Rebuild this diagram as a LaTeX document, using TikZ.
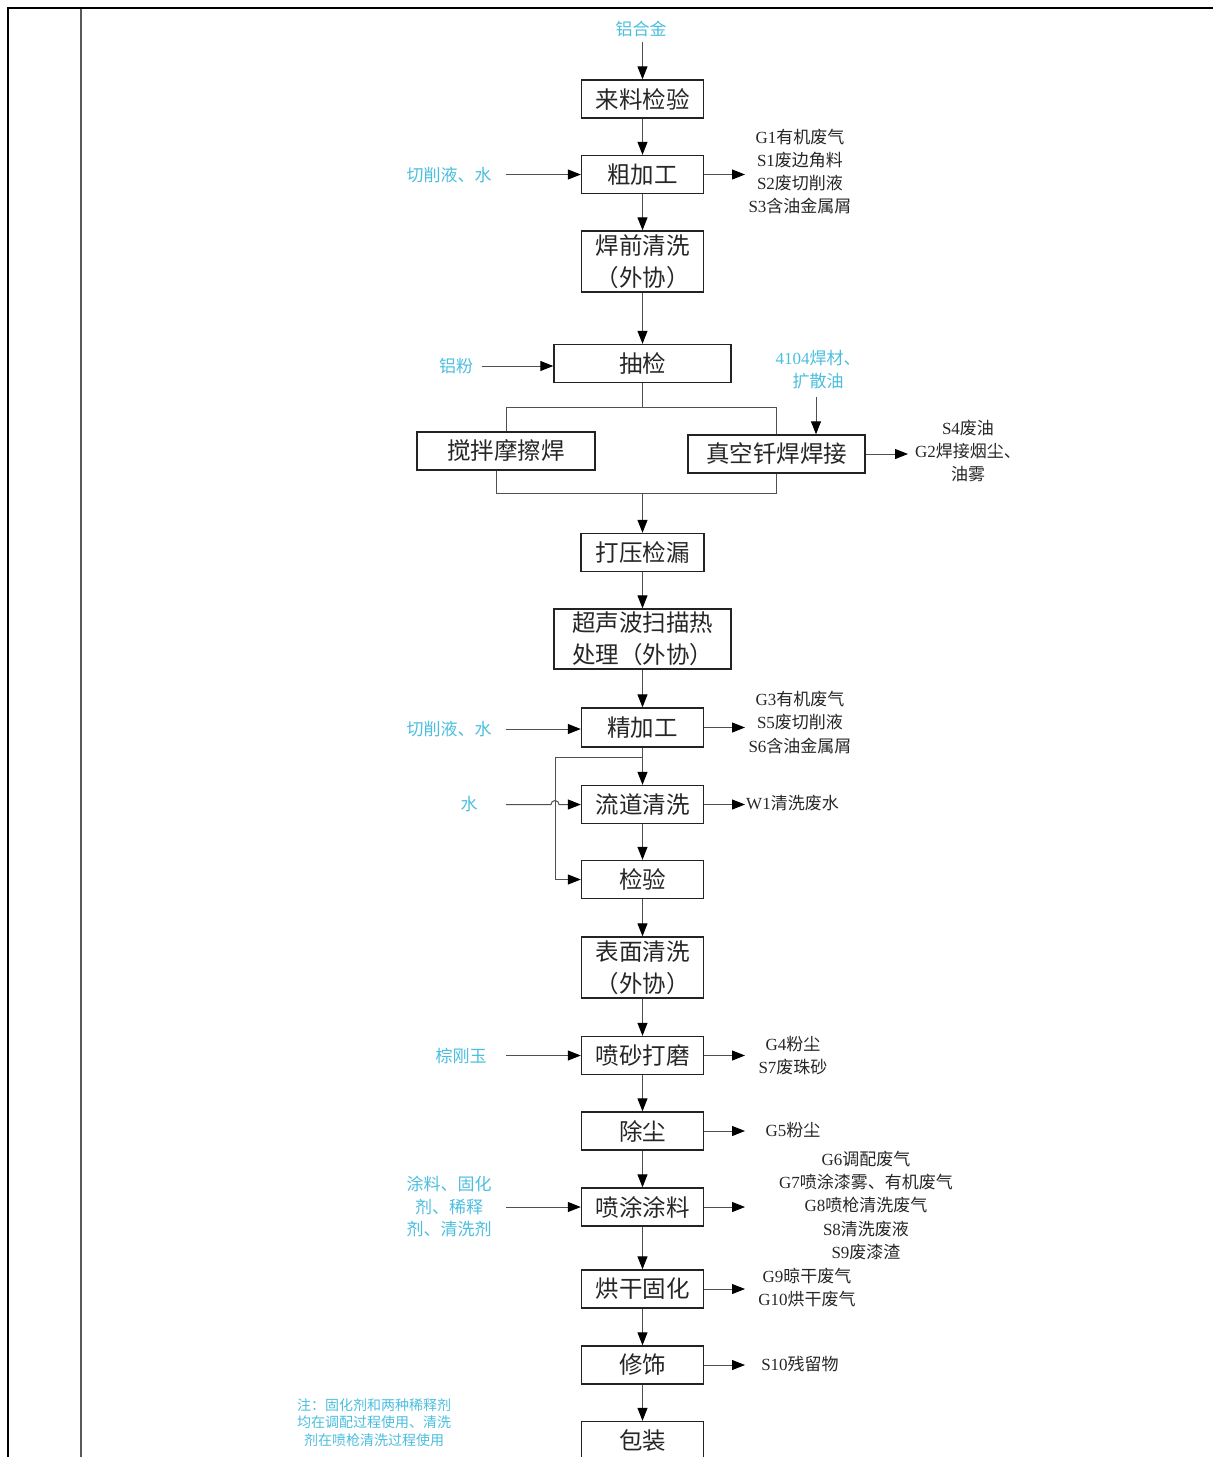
\documentclass[tikz,border=0pt]{standalone}
\usepackage{fontspec}
\setmainfont{Liberation Serif}
\newfontfamily\cjk{Noto Sans CJK SC}
\newcommand\zh[1]{{\cjk #1}}
\usetikzlibrary{arrows.meta}
\definecolor{inblue}{RGB}{75,190,222}
\definecolor{boxline}{RGB}{35,35,35}
\definecolor{conn}{RGB}{80,80,80}
\begin{document}
\begin{tikzpicture}[x=1pt,y=-1pt,
 proc/.style={draw=boxline,line width=1.4pt,minimum width=122pt,minimum height=38pt,inner sep=0pt,font={\cjk\fontsize{23.5}{32}\selectfont},align=center,text=black!85},
 flow/.style={draw=conn,line width=1pt,-{Triangle[length=13pt,width=10pt,black]}},
 conline/.style={draw=conn,line width=1pt},
 outtxt/.style={font={\fontsize{17}{23.2}\selectfont},align=center,inner sep=0pt,text=black!85},
 intxt/.style={font={\cjk\fontsize{17}{22.8}\selectfont},text=inblue,align=center,inner sep=0pt},
 notetxt/.style={font={\cjk\fontsize{14}{17.5}\selectfont},text=inblue,align=center,inner sep=0pt}
]
\useasboundingbox (0,0) rectangle (1213,1457);
% frame
\draw[line width=2.6pt,black] (8,1460) -- (8,8) -- (1215,8);
\draw[line width=1.5pt,black!65] (81,9) -- (81,1460);

% process boxes
\node[proc] (b1) at (642.5,99) {来料检验};
\node[proc] (b2) at (642.5,174.5) {粗加工};
\node[proc,minimum height=61pt] (b3) at (642.5,261.5) {焊前清洗\\（外协）};
\node[proc,minimum width=177pt] (b4) at (642.5,363.5) {抽检};
\node[proc,minimum width=178pt] (b5a) at (506,451) {搅拌摩擦焊};
\node[proc,minimum width=177pt] (b5b) at (776.5,454) {真空钎焊焊接};
\node[proc,minimum width=123pt] (b6) at (642.5,552.5) {打压检漏};
\node[proc,minimum width=177pt,minimum height=60pt] (b7) at (642.5,639) {超声波扫描热\\处理（外协）};
\node[proc,minimum height=39pt] (b8) at (642.5,727.5) {精加工};
\node[proc] (b9) at (642.5,804.5) {流道清洗};
\node[proc] (b10) at (642.5,879.5) {检验};
\node[proc,minimum height=61pt] (b11) at (642.5,967.5) {表面清洗\\（外协）};
\node[proc] (b12) at (642.5,1055.5) {喷砂打磨};
\node[proc] (b13) at (642.5,1131) {除尘};
\node[proc] (b14) at (642.5,1207) {喷涂涂料};
\node[proc] (b15) at (642.5,1289) {烘干固化};
\node[proc] (b16) at (642.5,1365) {修饰};
\node[proc] (b17) at (642.5,1440.5) {包装};

% top input
\node[intxt] (t0) at (641,29) {铝合金};
\coordinate (t0s) at (642.5,42);
\draw[flow] (t0s) -- (b1);
\draw[flow] (b1) -- (b2);
\draw[flow] (b2) -- (b3);
\draw[flow] (b3) -- (b4);

% split and join
\coordinate (sp) at (642.5,407);
\coordinate (spl) at (506,407);
\coordinate (spr) at (776.5,407);
\draw[conline] (b4) -- (sp);
\draw[conline] (spl) -- (spr);
\draw[conline] (spl) -- (b5a);
\draw[conline] (spr) -- (b5b);
\coordinate (jl) at (496,493);
\coordinate (jr) at (776.5,493);
\coordinate (jm) at (642.5,493);
\draw[conline] (b5a.south -| jl) -- (jl) -- (jr) -- (b5b);
\draw[flow] (jm) -- (b6);
\draw[flow] (b6) -- (b7);
\draw[flow] (b7) -- (b8);
\draw[flow] (b8) -- (b9);
\draw[flow] (b9) -- (b10);
\draw[flow] (b10) -- (b11);
\draw[flow] (b11) -- (b12);
\draw[flow] (b12) -- (b13);
\draw[flow] (b13) -- (b14);
\draw[flow] (b14) -- (b15);
\draw[flow] (b15) -- (b16);
\draw[flow] (b16) -- (b17);

% bypass loop
\coordinate (lp1) at (642.5,757);
\coordinate (lp2) at (555,757);
\coordinate (lp3) at (555,879.5);
\draw[conline] (lp1) -- (lp2) -- (lp3);
\draw[flow] (lp3) -- (b10);

% inputs (left)
\node[intxt] (in2) at (449,175) {切削液、水};
\coordinate (in2e) at (506,174.5);
\draw[flow] (in2e) -- (b2);
\node[intxt] (in4) at (456,366) {铝粉};
\coordinate (in4e) at (482,366);
\draw[flow] (in4e) -- (in4e -| b4.west);
\node[intxt] (in5) at (818,369.5) {{\rmfamily 4104}焊材、\\扩散油};
\coordinate (in5s) at (816,397);
\draw[flow] (in5s) -- (in5s |- b5b.north);
\node[intxt] (in8) at (449,729) {切削液、水};
\coordinate (in8e) at (506,729);
\draw[flow] (in8e) -- (in8e -| b8.west);
\node[intxt] (in9) at (469,804) {水};
\coordinate (in9e) at (506,804.5);
\coordinate (hop) at (551,804.5);
\draw[flow] (in9e) -- (hop) arc[start angle=180,end angle=0,radius=4pt] -- (b9);
\node[intxt] (in12) at (461,1056) {棕刚玉};
\coordinate (in12e) at (506,1055.5);
\draw[flow] (in12e) -- (b12);
\node[intxt] (in14) at (449,1206.5) {涂料、固化\\剂、稀释\\剂、清洗剂};
\coordinate (in14e) at (506,1207);
\draw[flow] (in14e) -- (b14);

% note
\node[notetxt] (note) at (374,1422.5) {注：固化剂和两种稀释剂\\均在调配过程使用、清洗\\剂在喷枪清洗过程使用};

% outputs (right)
\coordinate (o2) at (745,174.5);
\draw[flow] (b2) -- (o2);
\node[outtxt] (ot2) at (800,171.5) {G1\zh{有机废气}\\S1\zh{废边角料}\\S2\zh{废切削液}\\S3\zh{含油金属屑}};
\coordinate (o5) at (908,454);
\draw[flow] (b5b) -- (o5);
\node[outtxt] (ot5) at (968,451) {S4\zh{废油}\\G2\zh{焊接烟尘、}\\\zh{油雾}};
\coordinate (o8) at (745,727.5);
\draw[flow] (b8) -- (o8);
\node[outtxt] (ot8) at (800,722.5) {G3\zh{有机废气}\\S5\zh{废切削液}\\S6\zh{含油金属屑}};
\coordinate (o9) at (745,804.5);
\draw[flow] (b9) -- (o9);
\node[outtxt,anchor=west] (ot9) at (746,803) {W1\zh{清洗废水}};
\coordinate (o12) at (745,1055.5);
\draw[flow] (b12) -- (o12);
\node[outtxt] (ot12) at (793,1055.5) {G4\zh{粉尘}\\S7\zh{废珠砂}};
\coordinate (o13) at (745,1131);
\draw[flow] (b13) -- (o13);
\node[outtxt] (ot13) at (793,1130) {G5\zh{粉尘}};
\coordinate (o14) at (745,1207);
\draw[flow] (b14) -- (o14);
\node[outtxt] (ot14) at (866,1205.5) {G6\zh{调配废气}\\G7\zh{喷涂漆雾、有机废气}\\G8\zh{喷枪清洗废气}\\S8\zh{清洗废液}\\S9\zh{废漆渣}};
\coordinate (o15) at (745,1289);
\draw[flow] (b15) -- (o15);
\node[outtxt] (ot15) at (807,1287.5) {G9\zh{晾干废气}\\G10\zh{烘干废气}};
\coordinate (o16) at (745,1365);
\draw[flow] (b16) -- (o16);
\node[outtxt] (ot16) at (800,1364) {S10\zh{残留物}};
\end{tikzpicture}
\end{document}
